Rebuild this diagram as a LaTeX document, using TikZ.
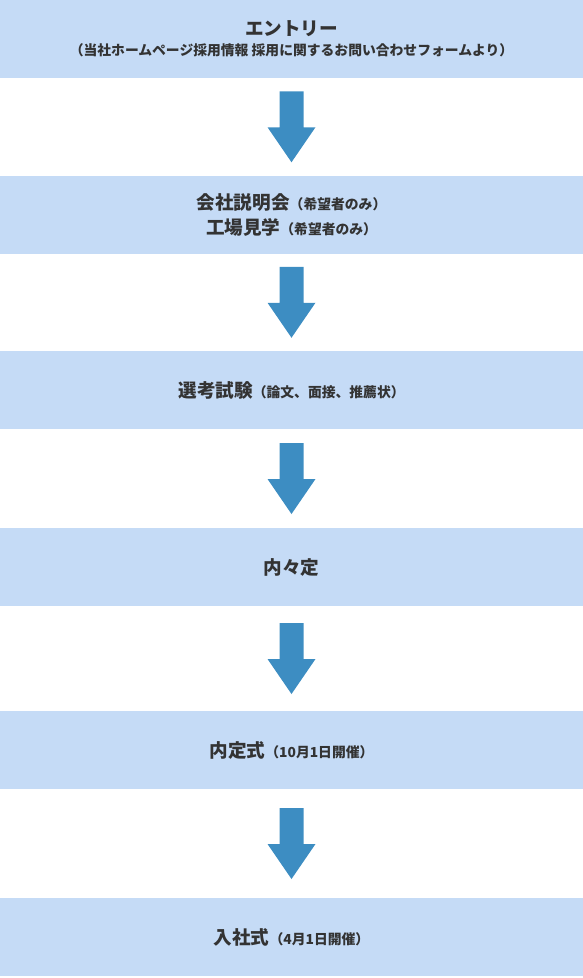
\documentclass[tikz,border=0pt]{standalone}
\usepackage{fontspec}
\newfontfamily\jpfont{Noto Sans CJK JP}
\usepackage{tikz}
\usetikzlibrary{calc}
\definecolor{boxblue}{HTML}{C5DBF6}
\definecolor{arrowblue}{HTML}{3D8DC2}
\definecolor{textgray}{HTML}{333333}
\newcommand{\bigtxt}{\fontsize{18.6}{25}\selectfont}
\newcommand{\smalltxt}{\fontsize{13.8}{16}\selectfont}

\begin{document}
\begin{tikzpicture}[x=1pt, y=1pt,
        stage/.style={rectangle, fill=boxblue, minimum width=583pt, minimum height=78pt, inner sep=0pt, align=center, text=textgray, font=\jpfont\bfseries\bigtxt},
        blockarrow/.style={fill=arrowblue}]
        \useasboundingbox (0,0) rectangle (583,-978);

        % Stages
        \node[stage] (entry) at (291.5,-39) {エントリー\\[-5pt]{\smalltxt （当社ホームページ採用情報\ 採用に関するお問い合わせフォームより）}};
        \node[stage] (setsumei) at (291.5,-214.5) {会社説明会{\smalltxt （希望者のみ）}\\工場見学{\smalltxt （希望者のみ）}};
        \node[stage] (shiken) at (291.5,-390) {選考試験{\smalltxt （論文、面接、推薦状）}};
        \node[stage] (naitei) at (291.5,-567) {内々定};
        \node[stage] (naiteishiki) at (291.5,-750) {内定式{\smalltxt （10月1日開催）}};
        \node[stage] (nyusha) at (291.5,-937) {入社式{\smalltxt （4月1日開催）}};

        % Arrows
        \foreach \a/\b in {entry/setsumei, setsumei/shiken, shiken/naitei, naitei/naiteishiki, naiteishiki/nyusha}
            \fill[blockarrow] ($(\a.south)!0.5!(\b.north)$) ++(-12,35.5) -- ++(24,0) -- ++(0,-36) -- ++(12,0) -- ++(-24,-35) -- ++(-24,35) -- ++(12,0) -- cycle;

    \end{tikzpicture}
\end{document}
